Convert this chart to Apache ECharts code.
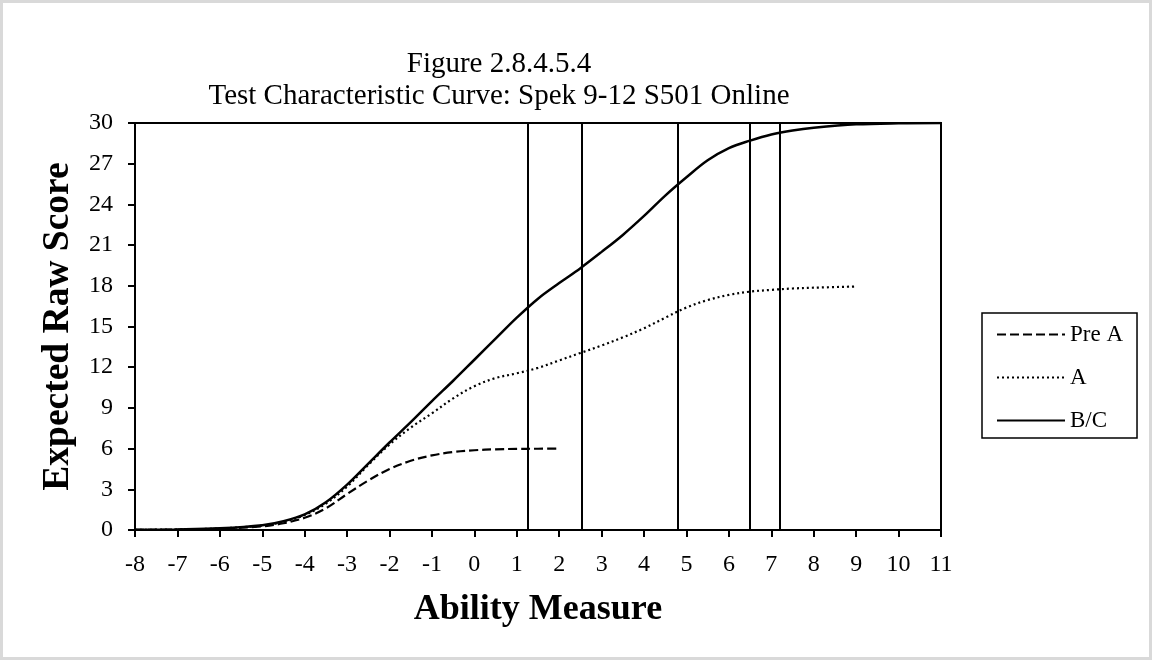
<!DOCTYPE html>
<html><head><meta charset="utf-8">
<script src="https://cdn.jsdelivr.net/npm/echarts@6/dist/echarts.min.js"></script>
<style>html,body{margin:0;padding:0;background:#fff}#c{width:1152px;height:660px}</style>
</head><body><div id="c"></div>
<script>
// ---- data ----
const titleLines = ['Figure 2.8.4.5.4', 'Test Characteristic Curve: Spek 9-12 S501 Online'];
const seriesNames = ['Pre A', 'A', 'B/C'];

const abilityPreA = [-8, -7, -6, -5, -4.5, -4, -3.5, -3, -2.5, -2, -1.5, -1, -0.5, 0, 0.5, 1, 1.5, 2];
const scorePreA   = [0.01, 0.03, 0.1, 0.27, 0.5, 0.9, 1.6, 2.65, 3.65, 4.5, 5.1, 5.5, 5.75, 5.88, 5.95, 5.98, 5.99, 6.0];

const abilityA = [-8, -7, -6, -5, -4.5, -4, -3.5, -3, -2.5, -2, -1.5, -1, -0.5, 0, 0.5, 1, 1.5, 2, 2.5, 3, 3.5, 4, 4.5, 5, 5.5, 6, 6.5, 7, 7.5, 8, 9];
const scoreA   = [0.01, 0.04, 0.12, 0.33, 0.6, 1.1, 1.95, 3.2, 4.8, 6.3, 7.55, 8.6, 9.7, 10.6, 11.2, 11.55, 11.95, 12.5, 13.05, 13.6, 14.2, 14.87, 15.65, 16.4, 16.95, 17.33, 17.57, 17.7, 17.8, 17.86, 17.95];

const abilityBC = [-8, -7, -6, -5, -4.5, -4, -3.5, -3, -2.5, -2, -1.5, -1, -0.5, 0, 0.5, 1, 1.5, 2, 2.5, 3, 3.5, 4, 4.5, 5, 5.5, 6, 6.5, 7, 7.5, 8, 9, 10, 11];
const scoreBC   = [0.01, 0.04, 0.12, 0.35, 0.65, 1.15, 2.05, 3.35, 4.9, 6.45, 7.95, 9.5, 11.0, 12.55, 14.1, 15.65, 17.05, 18.2, 19.3, 20.5, 21.75, 23.15, 24.65, 26.0, 27.25, 28.15, 28.7, 29.15, 29.45, 29.65, 29.9, 29.98, 30.0];

const cutScores = [1.25, 2.54, 4.8, 6.5, 7.19];

const xMin = -8, xMax = 11, xStep = 1;
const yMin = 0, yMax = 30, yStep = 3;

// ---- chart ----
const FONT = "'Liberation Serif', 'Times New Roman', serif";
const pairs = (xs, ys) => xs.map((x, i) => [x, ys[i]]);

const chart = echarts.init(document.getElementById('c'), null, {renderer: 'canvas'});
chart.setOption({
  animation: false,
  backgroundColor: '#fff',
  graphic: [
    {type: 'rect', shape: {x: 1.5, y: 1.5, width: 1149, height: 657}, style: {fill: 'none', stroke: '#d9d9d9', lineWidth: 3}, silent: true},
    {type: 'text', x: 499, y: 64, style: {text: titleLines[0], font: '29px ' + FONT, fill: '#000', textAlign: 'center', textVerticalAlign: 'middle'}},
    {type: 'text', x: 499, y: 96, style: {text: titleLines[1], font: '29px ' + FONT, fill: '#000', textAlign: 'center', textVerticalAlign: 'middle'}}
  ],
  grid: {left: 135, right: 211, top: 123, bottom: 130, show: true, borderColor: '#000', borderWidth: 2, backgroundColor: 'transparent'},
  legend: {
    orient: 'vertical', left: 982, top: 313,
    padding: [10, 14, 6, 14],
    itemWidth: 68, itemHeight: 14, itemGap: 20,
    borderColor: '#000', borderWidth: 1.5,
    itemStyle: {opacity: 0},
    data: seriesNames,
    textStyle: {fontFamily: FONT, fontSize: 23, color: '#000'}
  },
  xAxis: {
    type: 'value', min: xMin, max: xMax, interval: xStep,
    name: 'Ability Measure', nameLocation: 'middle', nameGap: 62,
    nameTextStyle: {fontFamily: FONT, fontSize: 36, fontWeight: 'bold', color: '#000'},
    axisLine: {show: true, onZero: false, lineStyle: {color: '#000', width: 2}},
    axisTick: {show: true, inside: false, length: 7, lineStyle: {color: '#000', width: 2}},
    axisLabel: {fontFamily: FONT, fontSize: 24, color: '#000', margin: 23},
    splitLine: {show: false}
  },
  yAxis: {
    type: 'value', min: yMin, max: yMax, interval: yStep,
    name: 'Expected Raw Score', nameLocation: 'middle', nameGap: 58, nameRotate: 90,
    nameTextStyle: {fontFamily: FONT, fontSize: 37.5, fontWeight: 'bold', color: '#000'},
    axisLine: {show: true, onZero: false, lineStyle: {color: '#000', width: 2}},
    axisTick: {show: true, inside: false, length: 7, lineStyle: {color: '#000', width: 2}},
    axisLabel: {fontFamily: FONT, fontSize: 24, color: '#000', margin: 22},
    splitLine: {show: false}
  },
  series: [
    {
      name: seriesNames[0], type: 'line', data: pairs(abilityPreA, scorePreA),
      smooth: 0.35, symbol: 'none', showSymbol: false,
      itemStyle: {color: '#000'},
      lineStyle: {color: '#000', width: 2.2, type: [9, 4]}
    },
    {
      name: seriesNames[1], type: 'line', data: pairs(abilityA, scoreA),
      smooth: 0.35, symbol: 'none', showSymbol: false,
      itemStyle: {color: '#000'},
      lineStyle: {color: '#000', width: 2.2, type: [2, 3]}
    },
    {
      name: seriesNames[2], type: 'line', data: pairs(abilityBC, scoreBC),
      smooth: 0.35, symbol: 'none', showSymbol: false,
      itemStyle: {color: '#000'},
      lineStyle: {color: '#000', width: 2.5, type: 'solid'},
      markLine: {
        silent: true, symbol: ['none', 'none'], label: {show: false},
        lineStyle: {color: '#000', width: 2, type: 'solid'},
        data: cutScores.map(v => ({xAxis: v}))
      }
    }
  ]
});
</script>
</body></html>
